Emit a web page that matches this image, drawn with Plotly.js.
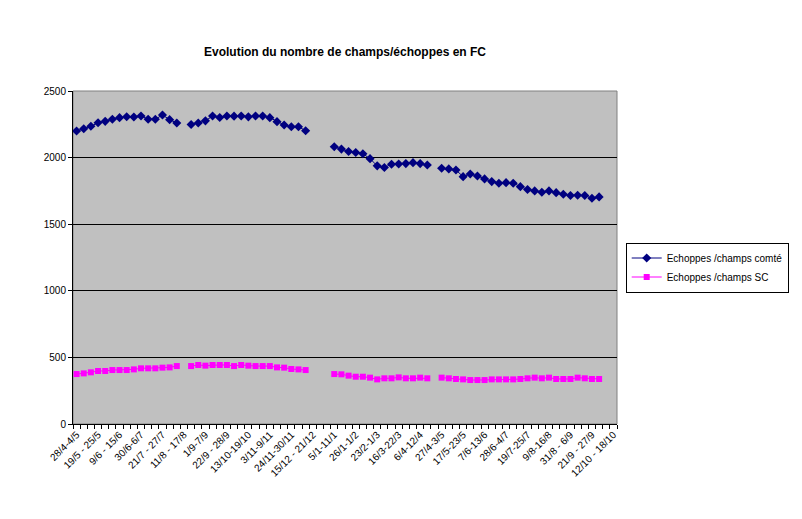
<!DOCTYPE html>
<html>
<head>
<meta charset="utf-8">
<script src="https://cdn.plot.ly/plotly-3.0.1.min.js"></script>
<style>html,body{margin:0;padding:0;background:#fff;}#chart{width:802px;height:519px;}</style>
</head>
<body>
<div id="chart"></div>
<script>
const weeks = [
  "28/4-4/5","5/5-11/5","12/5-18/5","19/5 - 25/5","26/5-1/6","2/6-8/6","9/6 - 15/6","16/6-22/6","23/6-29/6","30/6-6/7",
  "7/7-13/7","14/7-20/7","21/7 - 27/7","28/7-3/8","4/8-10/8","11/8 - 17/8","18/8-24/8","25/8-31/8","1/9-7/9","8/9-14/9",
  "15/9-21/9","22/9 - 28/9","29/9-5/10","6/10-12/10","13/10-19/10","20/10-26/10","27/10-2/11","3/11-9/11","10/11-16/11","17/11-23/11",
  "24/11-30/11","1/12-7/12","8/12-14/12","15/12 - 21/12","22/12-28/12","29/12-4/1","5/1-11/1","12/1-18/1","19/1-25/1","26/1-1/2",
  "2/2-8/2","9/2-15/2","23/2-1/3","2/3-8/3","9/3-15/3","16/3-22/3","23/3-29/3","30/3-5/4","6/4-12/4","13/4-19/4",
  "20/4-26/4","27/4-3/5","4/5-10/5","11/5-16/5","17/5-23/5","24/5-30/5","31/5-6/6","7/6-13/6","14/6-20/6","21/6-27/6",
  "28/6-4/7","5/7-11/7","12/7-18/7","19/7-25/7","26/7-1/8","2/8-8/8","9/8-16/8","17/8-23/8","24/8-30/8","31/8 - 6/9",
  "7/9-13/9","14/9-20/9","21/9 - 27/9","28/9-4/10","5/10-11/10","12/10 - 18/10"
];
const comte = [
  2200,2217,2235,2262,2272,2288,2300,2307,2305,2312,2288,2288,2320,2285,2260,null,2248,2260,2276,2312,
  2301,2312,2311,2312,2306,2312,2312,2300,2270,2245,2232,2232,2202,null,null,null,2082,2064,2046,2038,
  2029,1992,1938,1926,1950,1952,1955,1962,1955,1945,null,1920,1915,1907,1857,1877,1862,1840,1820,1807,
  1812,1807,1782,1760,1750,1740,1750,1737,1725,1715,1717,1715,1695,1705,null,null
];
const sc = [
  375,380,388,398,398,405,405,405,410,418,418,418,423,425,435,null,435,443,438,443,
  443,443,435,443,438,435,435,435,425,423,413,410,405,null,null,null,375,373,363,355,
  355,348,335,343,343,350,343,343,348,343,null,348,343,338,335,330,330,330,335,335,
  335,335,338,343,348,343,348,338,338,338,348,343,338,338,null,null
];
const seriesNames = ["Echoppes /champs comté", "Echoppes /champs SC"];
const chartTitle = "Evolution du nombre de champs/échoppes en FC";

const FONT = "Liberation Sans, Arial, sans-serif";
const tickText = weeks.map((w, i) => (i % 3 === 0 ? w : ""));

const traces = [
  {
    x: weeks, y: comte, name: seriesNames[0], type: "scatter", mode: "lines+markers",
    line: {color: "#000080", width: 1},
    marker: {symbol: "diamond", size: 7, color: "#000080", line: {width: 0}},
    connectgaps: false
  },
  {
    x: weeks, y: sc, name: seriesNames[1], type: "scatter", mode: "lines+markers",
    line: {color: "#FF00FF", width: 1},
    marker: {symbol: "square", size: 6, color: "#FF00FF", line: {width: 0}},
    connectgaps: false
  }
];

const layout = {
  width: 802, height: 519,
  margin: {l: 73, r: 185, t: 91, b: 95, pad: 0},
  paper_bgcolor: "#ffffff",
  plot_bgcolor: "#C0C0C0",
  font: {family: FONT, size: 10, color: "#000"},
  title: {
    text: "<b>" + chartTitle + "</b>",
    font: {family: FONT, size: 12, color: "#000"},
    x: 0.5, xref: "paper", y: 1 - 52 / 519, yref: "container", yanchor: "middle"
  },
  showlegend: true,
  legend: {
    x: 1.016, y: 0.545, xanchor: "left", yanchor: "top",
    bgcolor: "#ffffff", bordercolor: "#000", borderwidth: 1,
    font: {family: FONT, size: 10, color: "#000"},
    tracegroupgap: 0, itemwidth: 30
  },
  xaxis: {
    type: "category",
    categoryorder: "array", categoryarray: weeks,
    range: [-0.5, weeks.length - 0.5],
    tickmode: "array", tickvals: weeks, ticktext: tickText,
    tickson: "boundaries",
    ticks: "outside", ticklen: 4, tickcolor: "#000", tickwidth: 1,
    tickangle: -45,
    tickfont: {family: FONT, size: 10, color: "#000"},
    showline: true, linecolor: "#000", linewidth: 1,
    showgrid: false, zeroline: false, fixedrange: true
  },
  yaxis: {
    range: [0, 2500], tickmode: "linear", tick0: 0, dtick: 500,
    ticks: "outside", ticklen: 4, tickcolor: "#000",
    tickfont: {family: FONT, size: 10, color: "#000"},
    showline: true, linecolor: "#000", linewidth: 1,
    showgrid: true, gridcolor: "#000", gridwidth: 1,
    zeroline: false, fixedrange: true
  },
  shapes: [
    {type: "rect", xref: "paper", yref: "paper", x0: 0, x1: 1, y0: 0, y1: 1,
     line: {color: "#808080", width: 1}, fillcolor: "rgba(0,0,0,0)", layer: "below"}
  ]
};

Plotly.newPlot("chart", traces, layout, {displayModeBar: false, staticPlot: true});
</script>
</body>
</html>
